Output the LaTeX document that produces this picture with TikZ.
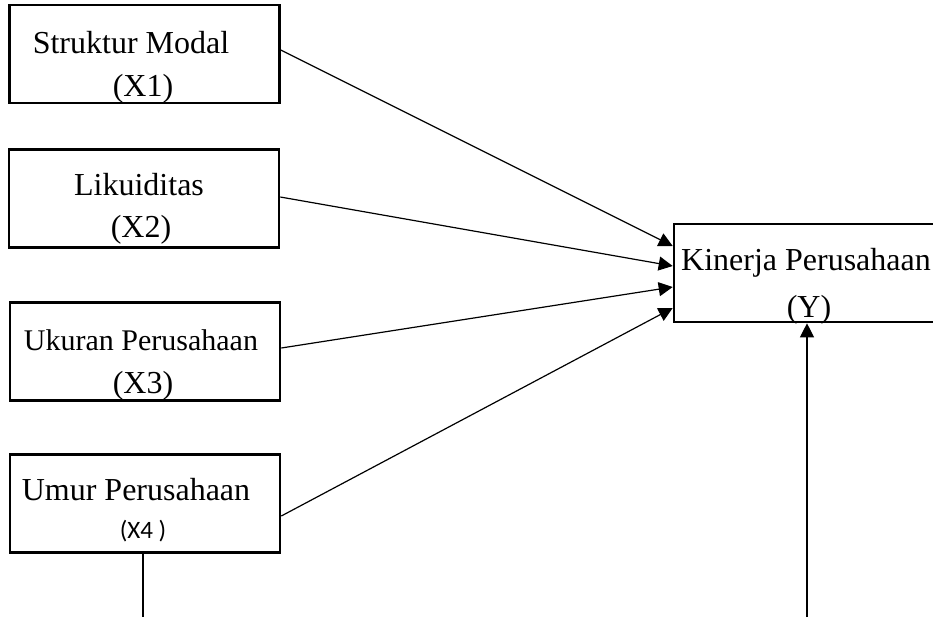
\documentclass[tikz,border=0pt]{standalone}
\usepackage{fontspec}
\setmainfont{Liberation Serif}
\newfontfamily\calibrifont{Carlito}
\usepackage{tikz}
\usetikzlibrary{arrows.meta}
\tikzset{
	varbox/.style={draw,line width=1.3pt,minimum width=135pt,minimum height=49pt,inner sep=0pt},
	vartext/.style={anchor=base,inner sep=0pt,font=\fontsize{16}{19}\selectfont},
	panah/.style={line width=0.6pt,-{Triangle[length=7pt,width=7pt]}}
}

\begin{document}
\begin{tikzpicture}[x=0.5pt,y=-0.5pt]
			\useasboundingbox (0,0) rectangle (933,617);
			\clip (0,0) rectangle (933,617);
			\node[varbox] (x1) at (144.5,54) {};
			\node[varbox] (x2) at (144,198.5) {};
			\node[varbox] (x3) at (145,351.5) {};
			\node[varbox] (x4) at (145,503.5) {};
			\node[varbox,minimum width=133pt] (y) at (807,273) {};
			\node[vartext] (x1nama) at (131,53) {Struktur Modal};
			\node[vartext] (x1kode) at (143,96) {(X1)};
			\node[vartext] (x2nama) at (139,195) {Likuiditas};
			\node[vartext] (x2kode) at (141,237) {(X2)};
			\node[vartext,font=\fontsize{15}{18}\selectfont] (x3nama) at (141,350) {Ukuran Perusahaan};
			\node[vartext] (x3kode) at (143,393) {(X3)};
			\node[vartext] (x4nama) at (136,500) {Umur Perusahaan};
			\node[vartext,font=\calibrifont\fontsize{12.5}{14}\selectfont] (x4kode) at (143,538) {(X4 )};
			\node[vartext] (ynama) at (806,270) {Kinerja Perusahaan};
			\node[vartext] (ykode) at (809,317) {(Y)};
			\coordinate (x4foot) at (143,617);
			\coordinate (yfoot) at (807,617);
			\draw[panah] ([yshift=2pt]x1.east) -- ([yshift=13.5pt]y.west);
			\draw[panah] ([yshift=0.75pt]x2.east) -- ([yshift=3.5pt]y.west);
			\draw[panah] ([yshift=1.75pt]x3.east) -- ([yshift=-7pt]y.west);
			\draw[panah] ([yshift=-6.25pt]x4.east) -- ([yshift=-17.5pt]y.west);
			\draw[line width=0.6pt] (x4foot |- x4.south) -- (x4foot);
			\draw[panah] (yfoot) -- (yfoot |- y.south);
		\end{tikzpicture}
\end{document}
